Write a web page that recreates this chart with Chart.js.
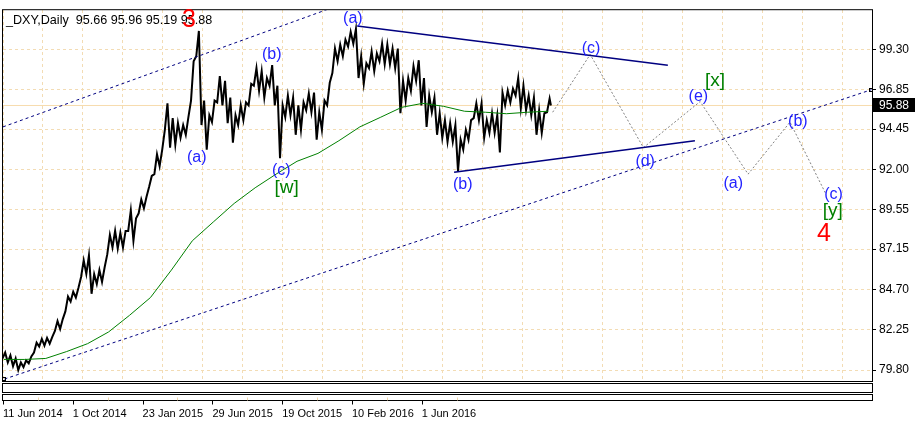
<!DOCTYPE html>
<html>
<head>
<meta charset="utf-8">
<script src="https://cdn.jsdelivr.net/npm/chart.js@4.4.1/dist/chart.umd.min.js"></script>
<style>
  html, body { margin: 0; padding: 0; background: #fff; }
  canvas { display: block; }
</style>
</head>
<body>
<canvas id="dxyChart" width="918" height="424"></canvas>
<script>
// ---------- data ----------
// x is a bar number (trading day, 0 = 11 Jun 2014), y is the DXY price
const dateLabels = ["11 Jun 2014", "1 Oct 2014", "23 Jan 2015", "29 Jun 2015", "19 Oct 2015", "10 Feb 2016", "1 Jun 2016"];
const dateBars = [0, 80, 160, 240, 320, 400, 480];
const priceTicks = [79.80, 82.25, 84.70, 87.15, 89.55, 92.00, 94.45, 96.85, 99.30];

// daily range, one sample every 6 bars
const highs = [80.87, 80.69, 80.51, 80.27, 80.39, 80.63, 81.47, 81.70, 81.76, 81.82,
  82.78, 82.90, 84.27, 84.56, 84.80, 86.47, 86.77, 85.64, 85.88, 86.05,
  88.02, 88.26, 88.14, 88.26, 89.51, 89.03, 90.17, 90.34, 91.60, 92.91,
  93.20, 96.01, 95.11, 94.81, 94.69, 95.17, 98.57, 100.41, 96.18, 95.29,
  96.18, 97.67, 97.38, 96.36, 95.29, 95.89, 96.07, 97.20, 98.15, 97.97,
  97.55, 98.33, 97.08, 95.89, 96.48, 96.36, 95.89, 96.07, 96.60, 96.66,
  95.47, 96.18, 97.26, 99.34, 99.58, 99.88, 100.36, 100.53, 98.87, 98.45,
  99.16, 99.04, 99.64, 99.58, 99.34, 99.34, 97.38, 97.55, 98.27, 98.63,
  97.55, 96.48, 96.36, 95.41, 94.99, 94.81, 94.69, 93.80, 94.40, 94.99,
  96.01, 96.01, 94.99, 95.41, 95.29, 96.66, 96.78, 96.90, 97.55, 97.08,
  96.48, 96.36, 95.59, 95.41, 96.30];
const lows = [80.51, 80.27, 80.04, 79.80, 79.98, 80.21, 80.87, 81.23, 81.29, 81.41,
  82.18, 82.30, 83.37, 83.97, 84.21, 85.46, 85.64, 84.44, 85.04, 85.16,
  86.83, 87.25, 87.19, 87.25, 88.26, 87.66, 89.33, 89.63, 90.94, 91.71,
  92.19, 94.40, 93.32, 93.50, 93.92, 94.10, 96.18, 98.87, 94.69, 93.20,
  94.87, 96.07, 95.89, 94.81, 93.62, 94.69, 94.99, 95.89, 97.08, 96.78,
  96.36, 97.08, 95.89, 92.67, 95.17, 95.29, 94.10, 94.40, 95.59, 95.47,
  93.80, 94.40, 95.89, 97.85, 98.57, 98.87, 99.46, 99.64, 97.55, 97.20,
  98.15, 97.97, 98.57, 98.39, 98.39, 98.15, 95.41, 96.18, 96.78, 97.38,
  95.89, 94.58, 95.47, 94.10, 93.92, 93.68, 93.68, 91.89, 93.20, 93.80,
  95.11, 94.99, 93.92, 94.22, 94.22, 93.03, 95.89, 96.07, 96.48, 95.71,
  95.59, 95.29, 94.10, 94.22, 95.47];
const lastClose = 95.88;
const header = "_DXY,Daily  95.66 95.96 95.19 95.88";

// moving average, one sample every 24 bars
const movingAvg = [80.45, 80.45, 80.51, 80.93, 81.41, 82.12, 83.13, 84.21, 85.88, 87.66,
  88.80, 89.93, 90.88, 91.71, 92.49, 92.97, 93.74, 94.58, 95.17, 95.77,
  96.01, 95.83, 95.53, 95.47, 95.38, 95.47, 95.53];

// drawn lines as [bar, price]
const channelTop = [[0, 94.58], [372, 101.72]];
const channelBottom = [[1.7, 79.26], [995.4, 96.84]];
const triangleTop = [[406, 100.71], [762, 98.33]];
const triangleBottom = [[517, 91.83], [793, 93.74]];
const projection = [[630, 95.47], [673, 98.98], [734, 93.32], [799, 96.12], [854, 91.71], [902, 94.87], [943, 90.52]];

// wave labels: text, bar, price
const waveLabels = [
  ["3", 213, 101.07], ["(a)", 222, 92.73], ["(b)", 308, 98.98], ["(c)", 319, 91.95], ["[w]", 325, 90.88],
  ["(a)", 401, 101.19], ["(b)", 527, 91.06], ["(c)", 674, 99.34], ["[x]", 816, 97.38], ["(e)", 797, 96.42],
  ["(d)", 736, 92.49], ["(a)", 837, 91.12], ["(b)", 911, 94.93], ["(c)", 952, 90.46], ["[y]", 951, 89.51],
  ["4", 941, 88.08]
];

// ---------- build datasets ----------
const SAMPLE_STEP = 6;
const MA_STEP = 24;
const X_MAX = 996;

const pricePts = [];
highs.forEach((h, i) => {
  const b = 1 + i * SAMPLE_STEP;
  pricePts.push({ x: b - 1.5, y: lows[i] }, { x: b + 1.5, y: h });
});
pricePts.push({ x: 1 + (highs.length - 1) * SAMPLE_STEP + 3, y: lastClose });

const maPts = movingAvg.map((v, i) => ({ x: 1 + i * MA_STEP, y: v }));
const toPts = arr => arr.map(p => ({ x: p[0], y: p[1] }));

const lineDs = (data, color, width, dash) => ({
  type: 'line', data, borderColor: color, borderWidth: width, borderDash: dash || [],
  pointRadius: 0, tension: 0, fill: false
});

const FONT = "'Liberation Sans', Arial, sans-serif";
const GRID = '#f3dcb4';

const decor = {
  id: 'decor',
  afterDraw(chart) {
    const { ctx, chartArea: a, scales: { x, y } } = chart;
    ctx.save();

    // window frames
    ctx.strokeStyle = '#000';
    ctx.lineWidth = 1;
    ctx.strokeRect(a.left - 0.5, a.top - 0.5, a.right - a.left + 1, a.bottom - a.top + 1);
    ctx.strokeRect(a.left - 0.5, a.bottom + 2.5, a.right - a.left + 1, 9);
    ctx.strokeRect(a.left - 0.5, a.bottom + 13.5, a.right - a.left + 1, 6);

    // time axis ticks
    const axisY = a.bottom + 19.5;
    dateBars.forEach(b => {
      const px = Math.round(x.getPixelForValue(b)) + 0.5;
      ctx.strokeStyle = '#000';
      ctx.beginPath(); ctx.moveTo(px, axisY); ctx.lineTo(px, axisY + 4); ctx.stroke();
      const mid = Math.round(x.getPixelForValue(b + 40)) + 0.5;
      ctx.strokeStyle = '#f0d5a8';
      ctx.beginPath(); ctx.moveTo(mid, axisY - 3); ctx.lineTo(mid, axisY); ctx.stroke();
    });

    // anchor squares of the lower channel
    ctx.strokeStyle = '#000';
    channelBottom.forEach(p => {
      const px = x.getPixelForValue(p[0]), py = y.getPixelForValue(p[1]);
      ctx.strokeRect(Math.round(px) - 1.5, Math.round(py) - 1.5, 3, 3);
    });

    // header
    ctx.fillStyle = '#000';
    ctx.font = '12.6px ' + FONT;
    ctx.textBaseline = 'middle';
    ctx.textAlign = 'left';
    ctx.fillText(header, a.left + 3, a.top + 10);

    // wave labels
    ctx.textAlign = 'center';
    waveLabels.forEach(([t, b, p]) => {
      let color = '#2323ff', size = 16;
      if (/^\d$/.test(t)) { color = '#ff0000'; size = 25; }
      else if (t[0] === '[') { color = '#008000'; size = 19; }
      ctx.fillStyle = color;
      ctx.font = size + 'px ' + FONT;
      ctx.fillText(t, x.getPixelForValue(b), y.getPixelForValue(p));
    });

    // current price box
    const by = Math.round(y.getPixelForValue(lastClose));
    ctx.fillStyle = '#000';
    ctx.fillRect(a.right + 1, by - 7, 42, 14);
    ctx.fillStyle = '#fff';
    ctx.font = '12px ' + FONT;
    ctx.textAlign = 'left';
    ctx.fillText(lastClose.toFixed(2), a.right + 7, by + 0.5);
    ctx.restore();
  }
};

new Chart(document.getElementById('dxyChart'), {
  type: 'line',
  data: {
    datasets: [
      lineDs(toPts(triangleTop), '#000080', 1.5),
      lineDs(toPts(triangleBottom), '#000080', 1.5),
      lineDs(toPts(channelTop), '#000080', 1, [3, 3]),
      lineDs(toPts(channelBottom), '#000080', 1, [3, 3]),
      lineDs(toPts(projection), '#808080', 1, [2, 2]),
      lineDs(maPts, '#008000', 1),
      lineDs(pricePts, '#000000', 2),
      lineDs([{ x: 0, y: lastClose }, { x: X_MAX, y: lastClose }], '#f7dcae', 1)
    ]
  },
  options: {
    responsive: false,
    animation: false,
    events: [],
    layout: { padding: { left: 3, top: 3, right: 0, bottom: 0 } },
    plugins: { legend: { display: false }, tooltip: { enabled: false } },
    scales: {
      x: {
        type: 'linear', position: 'bottom', min: 0, max: X_MAX,
        afterFit: s => { s.height = 43; s.paddingLeft = 0; s.paddingRight = 0; },
        afterBuildTicks: s => { s.ticks = dateBars.map(v => ({ value: v })); },
        grid: { display: false, drawTicks: false },
        border: { display: false },
        ticks: {
          autoSkip: false, maxRotation: 0, align: 'start', padding: 26,
          color: '#000', font: { family: FONT, size: 11 },
          callback: (v, i) => dateLabels[i]
        }
      },
      xg: {
        type: 'linear', position: 'top', min: 0, max: X_MAX,
        afterFit: s => { s.height = 0; s.paddingLeft = 0; s.paddingRight = 0; },
        afterBuildTicks: s => {
          const step = 40 / 0.8725;
          const t = [];
          for (let v = 0; v <= X_MAX; v += step) t.push({ value: v });
          s.ticks = t;
        },
        grid: { color: GRID, drawTicks: false },
        border: { display: false, dash: [3, 3] },
        ticks: { display: false }
      },
      y: {
        position: 'right', min: 79.14, max: 101.67,
        afterFit: s => { s.width = 46; },
        afterBuildTicks: s => { s.ticks = priceTicks.map(v => ({ value: v })); },
        grid: { color: GRID, tickLength: 4, tickColor: '#000', tickBorderDash: [] },
        border: { display: false, dash: [3, 3] },
        ticks: {
          padding: 3, color: '#000', font: { family: FONT, size: 12 },
          callback: v => v.toFixed(2)
        }
      }
    }
  },
  plugins: [decor]
});
</script>
</body>
</html>
